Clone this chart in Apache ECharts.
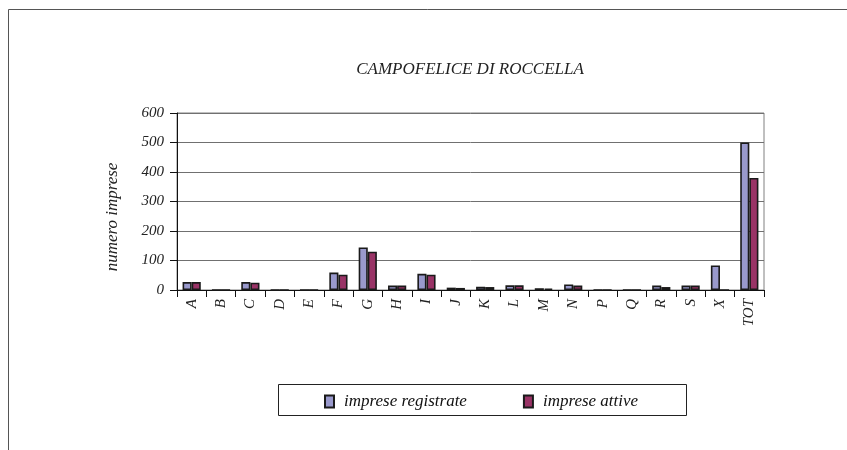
<!DOCTYPE html>
<html><head><meta charset="utf-8">
<script src="https://cdn.jsdelivr.net/npm/echarts@6/dist/echarts.min.js"></script>
<style>html,body{margin:0;padding:0;background:#fff}#c{width:847px;height:450px}</style>
</head><body><div id="c"></div>
<script>
const categories = ['A','B','C','D','E','F','G','H','I','J','K','L','M','N','P','Q','R','S','X','TOT'];
const impreseRegistrate = [27,0,27,0,0,59,144,15,55,8,11,16,6,19,0,0,15,15,83,500];
const impreseAttive =     [27,0,25,0,0,52,130,15,52,7,10,16,5,15,0,0,10,15,0,380];
const yTicks = [0,100,200,300,400,500,600];

const font = 'Liberation Serif';
const chart = echarts.init(document.getElementById('c'), null, {renderer:'canvas'});
chart.setOption({
  animation:false,
  backgroundColor:'#fff',
  title:{text:'CAMPOFELICE DI ROCCELLA', left:465, textAlign:'center', top:56,
    textStyle:{fontFamily:font, fontStyle:'italic', fontWeight:'normal', fontSize:17, color:'#222'}},
  grid:{left:177, right:83, top:113, bottom:160, show:true, borderColor:'#808080', borderWidth:1},
  xAxis:{type:'category', data:categories, boundaryGap:true,
    axisLine:{lineStyle:{color:'#111', width:1}},
    axisTick:{show:true, interval:0, length:7, lineStyle:{color:'#111'}},
    axisLabel:{rotate:90, interval:0, fontFamily:font, fontStyle:'italic', fontSize:15, color:'#222', margin:9}},
  yAxis:{type:'value', min:yTicks[0], max:yTicks[yTicks.length-1], interval:100,
    axisLine:{show:true, lineStyle:{color:'#111'}},
    axisTick:{show:true, length:7, lineStyle:{color:'#111'}},
    splitLine:{lineStyle:{color:'#707070', width:1}},
    axisLabel:{fontFamily:font, fontStyle:'italic', fontSize:15, color:'#222', margin:13}},
  legend:{left:278, top:385, width:408, height:30, padding:[8,0,0,46], itemGap:56,
    icon:'rect', itemWidth:9, itemHeight:12,
    textStyle:{fontFamily:font, fontStyle:'italic', fontSize:17, color:'#111', padding:[0,0,0,5]},
    backgroundColor:'rgba(0,0,0,0)'},
  graphic:[
    {type:'line', shape:{x1:8.5,y1:9.5,x2:847,y2:9.5}, style:{stroke:'#555', lineWidth:1}},
    {type:'line', shape:{x1:8.5,y1:9.5,x2:8.5,y2:450}, style:{stroke:'#555', lineWidth:1}},
    {type:'rect', shape:{x:278.5,y:384.5,width:408,height:31}, style:{fill:'none', stroke:'#222', lineWidth:1}, z:-1},
    {type:'text', x:113, y:217, rotation:Math.PI/2,
     style:{text:'numero imprese', fontFamily:font, fontStyle:'italic', fontSize:17, fill:'#222', textAlign:'center', textVerticalAlign:'middle'}}
  ],
  series:[
    {name:'imprese registrate', type:'bar', data:impreseRegistrate, barGap:'0%', barCategoryGap:'38%',
     itemStyle:{color:'#9999CC', borderColor:'#1a1a1a', borderWidth:1.6}},
    {name:'imprese attive', type:'bar', data:impreseAttive,
     itemStyle:{color:'#993366', borderColor:'#1a1a1a', borderWidth:1.6}}
  ]
});
</script></body></html>
